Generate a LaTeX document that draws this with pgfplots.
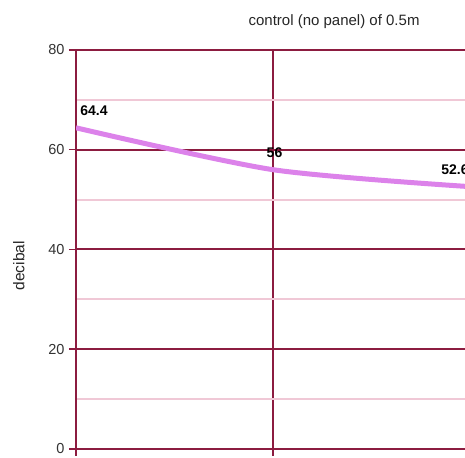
\documentclass[border=0pt]{standalone}
\usepackage{pgfplots}
\pgfplotsset{compat=1.18}
\usepackage{pgfplotstable}
\usepackage{fontspec}
\setmainfont{Liberation Sans}

\definecolor{gridred}{RGB}{140,28,64}
\definecolor{minorpink}{RGB}{240,200,214}
\definecolor{lineviolet}{RGB}{220,130,234}

\pgfplotstableread{
x y dx
0 64.4 18
1 56 1.5
2 52.6 -15
}\controldata

\begin{document}
\begin{tikzpicture}
\useasboundingbox (-76pt,-8pt) rectangle (389pt,449pt);
\clip (-76pt,-8pt) rectangle (389pt,449pt);
\begin{axis}[
  scale only axis,
  width=394pt, height=399pt,
  xmin=0, xmax=2, ymin=0, ymax=80,
  xtick={0,1,2}, xticklabels={},
  ytick={0,20,40,60,80},
  minor ytick={10,30,50,70},
  grid=both,
  grid style={draw=gridred, line width=2pt},
  minor grid style={draw=minorpink, line width=2pt},
  axis line style={draw=gridred, line width=2pt},
  tick style={draw=gridred, line width=1.5pt},
  minor tick length=0pt,
  major tick length=7pt,
  tick align=outside,
  ytick pos=left, xtick pos=bottom,
  /pgf/number format/assume math mode=true,
  yticklabel style={font=\fontsize{14.5}{16}\selectfont, color=black!80, xshift=-1pt},
  ylabel={decibal},
  every axis y label/.style={at={(axis description cs:-0.145,0.459)}, rotate=90, anchor=center, font=\fontsize{15.5}{18}\selectfont, color=black!85},
  title={control (no panel) of 0.5m},
  every axis title/.style={at={(axis description cs:0.655,1.070)}, anchor=center, font=\fontsize{15}{18}\selectfont, color=black!85},
]
\addplot[smooth, tension=0.45, color=lineviolet, line width=5pt,
  nodes near coords={\pgfmathprintnumber{\pgfplotspointmeta}},
  point meta=explicit,
  visualization depends on={\thisrow{dx} \as \dx},
  nodes near coords style={anchor=center, xshift=\dx pt, yshift=17pt,
    font=\bfseries\fontsize{14}{16}\selectfont, color=black,
    /pgf/number format/assume math mode=true}]
  table[x=x, y=y, meta=y] {\controldata};
\end{axis}
\end{tikzpicture}
\end{document}
